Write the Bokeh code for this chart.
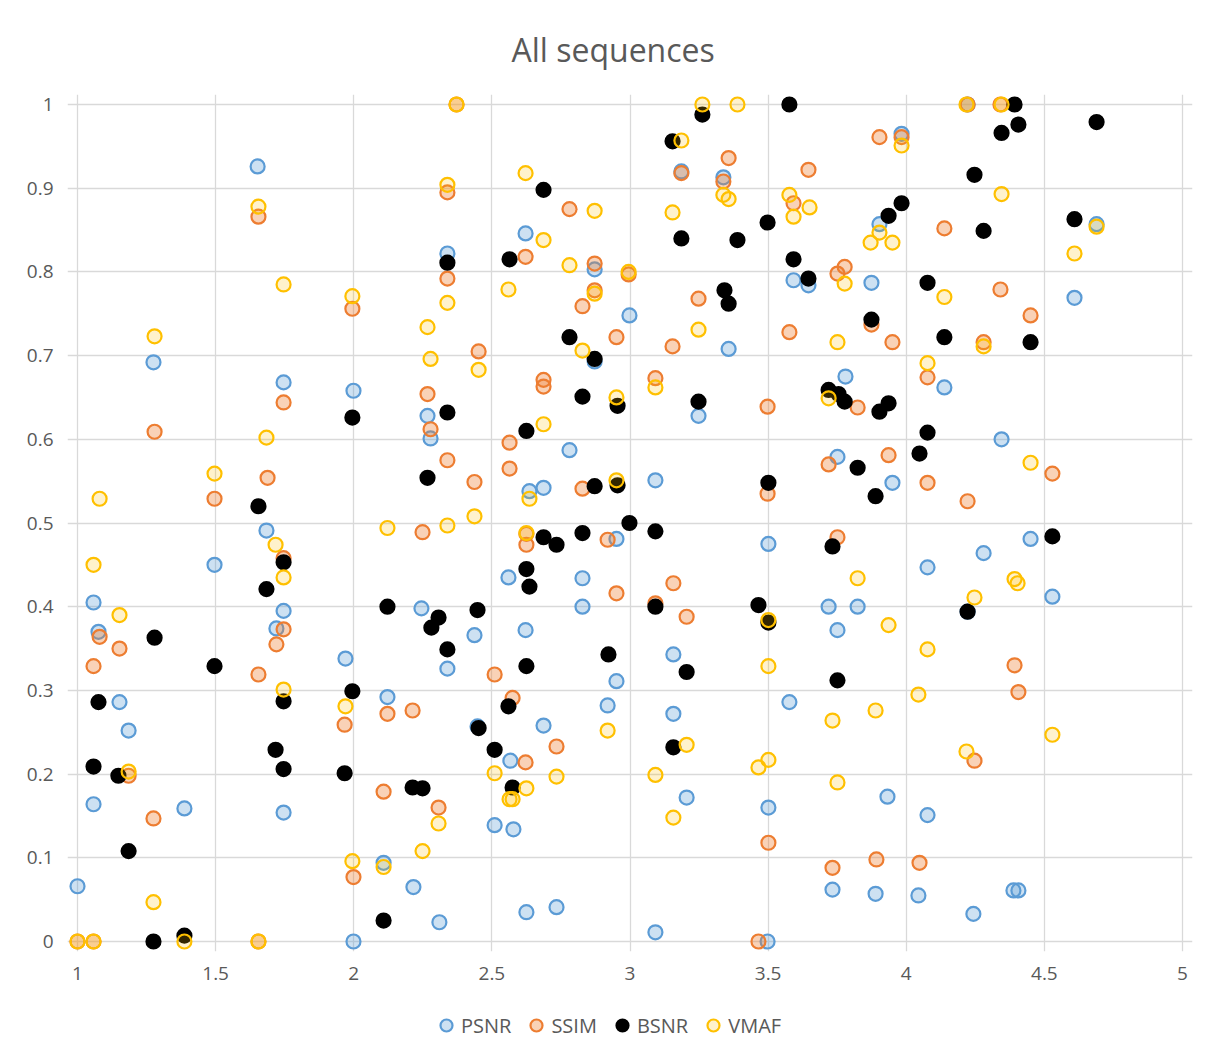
from bokeh.plotting import figure
from bokeh.models import Range1d, FixedTicker, Legend, LegendItem
from bokeh.layouts import column
from bokeh.embed import file_html
from bokeh.resources import INLINE

# ---------------- data ----------------
psnr_x = [1.0, 1.058, 1.076, 1.058, 1.152, 1.185, 1.275, 1.387, 1.496, 1.652, 1.684, 1.72, 1.746, 1.746, 1.746,
          1.97, 1.999, 1.999, 2.122, 2.108, 2.216, 2.245, 2.267, 2.278, 2.31, 2.339, 2.339, 2.437, 2.448, 2.51,
          2.56, 2.567, 2.578, 2.622, 2.622, 2.625, 2.636, 2.687, 2.687, 2.734, 2.781, 2.828, 2.828, 2.872, 2.872,
          2.919, 2.951, 2.951, 2.998, 3.092, 3.092, 3.157, 3.157, 3.186, 3.205, 3.248, 3.338, 3.357, 3.501, 3.501,
          3.498, 3.577, 3.592, 3.646, 3.719, 3.733, 3.751, 3.751, 3.78, 3.824, 3.874, 3.889, 3.903, 3.932, 3.95,
          3.983, 4.044, 4.077, 4.077, 4.138, 4.222, 4.222, 4.243, 4.28, 4.345, 4.388, 4.406, 4.45, 4.529, 4.609,
          4.689]
psnr_y = [0.066, 0.405, 0.370, 0.164, 0.286, 0.252, 0.692, 0.159, 0.450, 0.926, 0.491, 0.374, 0.668, 0.395, 0.154,
          0.338, 0.658, 0.0, 0.292, 0.094, 0.065, 0.398, 0.628, 0.601, 0.023, 0.822, 0.326, 0.366, 0.257, 0.139,
          0.435, 0.216, 0.134, 0.846, 0.372, 0.035, 0.538, 0.542, 0.258, 0.041, 0.587, 0.434, 0.400, 0.803, 0.693,
          0.282, 0.311, 0.481, 0.748, 0.551, 0.011, 0.343, 0.272, 0.920, 0.172, 0.628, 0.913, 0.708, 0.475, 0.160,
          0.0, 0.286, 0.790, 0.784, 0.400, 0.062, 0.579, 0.372, 0.675, 0.400, 0.787, 0.057, 0.857, 0.173, 0.548,
          0.965, 0.055, 0.447, 0.151, 0.662, 0.394, 1.0, 0.033, 0.464, 0.600, 0.061, 0.061, 0.481, 0.412, 0.769,
          0.857]

ssim_x = [1.0, 1.058, 1.058, 1.08, 1.152, 1.185, 1.279, 1.275, 1.496, 1.655, 1.655, 1.655, 1.688, 1.746, 1.746,
          1.746, 1.72, 1.967, 1.995, 1.999, 2.108, 2.122, 2.213, 2.249, 2.267, 2.278, 2.307, 2.339, 2.339, 2.339,
          2.372, 2.437, 2.452, 2.51, 2.564, 2.564, 2.575, 2.622, 2.625, 2.625, 2.622, 2.687, 2.687, 2.734, 2.781,
          2.828, 2.828, 2.872, 2.872, 2.919, 2.951, 2.951, 2.995, 3.092, 3.092, 3.154, 3.157, 3.186, 3.205, 3.248,
          3.338, 3.357, 3.465, 3.498, 3.498, 3.501, 3.577, 3.592, 3.646, 3.719, 3.733, 3.751, 3.751, 3.777, 3.824,
          3.874, 3.892, 3.903, 3.936, 3.95, 3.983, 4.048, 4.077, 4.077, 4.138, 4.222, 4.222, 4.247, 4.28, 4.341,
          4.341, 4.392, 4.406, 4.45, 4.529]
ssim_y = [0.0, 0.0, 0.329, 0.364, 0.350, 0.198, 0.609, 0.147, 0.529, 0.866, 0.319, 0.0, 0.554, 0.644, 0.458,
          0.373, 0.355, 0.259, 0.756, 0.077, 0.179, 0.272, 0.276, 0.489, 0.654, 0.612, 0.160, 0.895, 0.792, 0.575,
          1.0, 0.549, 0.705, 0.319, 0.596, 0.565, 0.291, 0.818, 0.487, 0.474, 0.214, 0.671, 0.663, 0.233, 0.875,
          0.759, 0.541, 0.810, 0.778, 0.480, 0.722, 0.416, 0.797, 0.673, 0.404, 0.711, 0.428, 0.918, 0.388, 0.768,
          0.908, 0.936, 0.0, 0.639, 0.535, 0.118, 0.728, 0.882, 0.922, 0.570, 0.088, 0.798, 0.483, 0.806, 0.638,
          0.737, 0.098, 0.961, 0.581, 0.716, 0.961, 0.094, 0.674, 0.548, 0.852, 0.526, 1.0, 0.216, 0.716, 0.779,
          1.0, 0.330, 0.298, 0.748, 0.559]

bsnr_x = [1.058, 1.076, 1.148, 1.185, 1.279, 1.275, 1.387, 1.496, 1.655, 1.684, 1.717, 1.746, 1.746, 1.746, 1.967,
          1.995, 1.995, 2.108, 2.122, 2.213, 2.249, 2.267, 2.281, 2.307, 2.339, 2.339, 2.339, 2.448, 2.452, 2.51,
          2.564, 2.56, 2.575, 2.625, 2.625, 2.636, 2.625, 2.687, 2.687, 2.734, 2.781, 2.828, 2.828, 2.872, 2.872,
          2.922, 2.955, 2.955, 2.998, 3.092, 3.092, 3.154, 3.157, 3.186, 3.205, 3.248, 3.262, 3.342, 3.357, 3.389,
          3.465, 3.498, 3.501, 3.501, 3.577, 3.592, 3.646, 3.719, 3.733, 3.755, 3.751, 3.777, 3.824, 3.874, 3.889,
          3.903, 3.936, 3.936, 3.983, 4.048, 4.077, 4.077, 4.138, 4.222, 4.247, 4.28, 4.345, 4.392, 4.406, 4.45,
          4.529, 4.609, 4.689]
bsnr_y = [0.209, 0.286, 0.198, 0.108, 0.363, 0.0, 0.007, 0.329, 0.520, 0.421, 0.229, 0.453, 0.287, 0.206, 0.201,
          0.626, 0.299, 0.025, 0.400, 0.184, 0.183, 0.554, 0.375, 0.387, 0.811, 0.632, 0.349, 0.396, 0.255, 0.229,
          0.815, 0.281, 0.184, 0.610, 0.445, 0.424, 0.329, 0.898, 0.483, 0.474, 0.722, 0.651, 0.488, 0.696, 0.544,
          0.343, 0.640, 0.545, 0.500, 0.490, 0.400, 0.956, 0.232, 0.840, 0.322, 0.645, 0.988, 0.778, 0.762, 0.838,
          0.402, 0.859, 0.548, 0.381, 1.0, 0.815, 0.792, 0.659, 0.472, 0.654, 0.312, 0.645, 0.566, 0.743, 0.532,
          0.633, 0.643, 0.867, 0.882, 0.583, 0.787, 0.608, 0.722, 0.394, 0.916, 0.849, 0.966, 1.0, 0.976, 0.716,
          0.484, 0.863, 0.979]

vmaf_x = [1.0, 1.058, 1.058, 1.08, 1.152, 1.185, 1.279, 1.275, 1.387, 1.496, 1.655, 1.655, 1.684, 1.717, 1.746,
          1.746, 1.746, 1.97, 1.995, 1.995, 2.108, 2.122, 2.249, 2.267, 2.278, 2.307, 2.339, 2.339, 2.339, 2.372,
          2.437, 2.452, 2.51, 2.56, 2.564, 2.575, 2.622, 2.625, 2.636, 2.625, 2.687, 2.687, 2.734, 2.781, 2.828,
          2.872, 2.872, 2.919, 2.951, 2.951, 2.995, 3.092, 3.092, 3.154, 3.157, 3.186, 3.205, 3.248, 3.262, 3.338,
          3.357, 3.389, 3.465, 3.501, 3.501, 3.501, 3.577, 3.592, 3.65, 3.719, 3.733, 3.751, 3.751, 3.777, 3.824,
          3.871, 3.889, 3.903, 3.936, 3.95, 3.983, 4.044, 4.077, 4.077, 4.138, 4.218, 4.218, 4.247, 4.28, 4.345,
          4.345, 4.392, 4.403, 4.45, 4.529, 4.609, 4.689]
vmaf_y = [0.0, 0.0, 0.450, 0.529, 0.390, 0.203, 0.723, 0.047, 0.0, 0.559, 0.878, 0.0, 0.602, 0.474, 0.785,
          0.435, 0.301, 0.281, 0.771, 0.096, 0.089, 0.494, 0.108, 0.734, 0.696, 0.141, 0.904, 0.763, 0.497, 1.0,
          0.508, 0.683, 0.201, 0.779, 0.170, 0.170, 0.918, 0.488, 0.529, 0.183, 0.838, 0.618, 0.197, 0.808, 0.706,
          0.873, 0.774, 0.252, 0.650, 0.551, 0.800, 0.662, 0.199, 0.871, 0.148, 0.957, 0.235, 0.731, 1.0, 0.892,
          0.887, 1.0, 0.208, 0.217, 0.384, 0.329, 0.892, 0.866, 0.877, 0.649, 0.264, 0.716, 0.190, 0.786, 0.434,
          0.835, 0.276, 0.847, 0.378, 0.835, 0.951, 0.295, 0.691, 0.349, 0.770, 1.0, 0.227, 0.411, 0.711, 1.0,
          0.893, 0.433, 0.428, 0.572, 0.247, 0.822, 0.854]

series_names = ["PSNR", "SSIM", "BSNR", "VMAF"]

x_ticks = [1, 1.5, 2, 2.5, 3, 3.5, 4, 4.5, 5]
x_tick_labels = ["1", "1.5", "2", "2.5", "3", "3.5", "4", "4.5", "5"]
y_ticks = [0, 0.1, 0.2, 0.3, 0.4, 0.5, 0.6, 0.7, 0.8, 0.9, 1.0]
y_tick_labels = ["0", "0.1", "0.2", "0.3", "0.4", "0.5", "0.6", "0.7", "0.8", "0.9", "1"]

title_text = "All sequences"

# ---------------- figure ----------------
FONT = "Open Sans"
TEXT = "#595959"
GRID = "#d9d9d9"

pad_x = 10 / 276.25
pad_y = 10 / 837.0

MAIN_H = 1010
LEG_H = 54

p = figure(width=1217, height=MAIN_H,
           x_range=Range1d(1 - pad_x, 5 + pad_x),
           y_range=Range1d(0 - pad_y, 1 + pad_y),
           output_backend="svg", toolbar_location=None,
           min_border_left=67, min_border_right=25,
           min_border_top=94, min_border_bottom=MAIN_H - 951,
           title=title_text)

p.outline_line_color = None
p.background_fill_color = "white"
p.border_fill_color = "white"

p.title.align = "left"
p.title.offset = 444
p.title.text_font = FONT
p.title.text_font_size = "32px"
p.title.text_font_style = "normal"
p.title.text_color = TEXT
p.title.standoff = 48

for ax in (p.xaxis[0], p.yaxis[0]):
    ax.axis_line_color = None
    ax.major_tick_line_color = None
    ax.minor_tick_line_color = None
    ax.major_tick_in = 0
    ax.major_tick_out = 0
    ax.minor_tick_in = 0
    ax.minor_tick_out = 0
    ax.major_label_text_font = FONT
    ax.major_label_text_font_size = "19px"
    ax.major_label_text_color = TEXT

p.xaxis.ticker = FixedTicker(ticks=x_ticks)
p.xaxis.major_label_overrides = {t: l for t, l in zip(x_ticks, x_tick_labels)}
p.xaxis.major_label_standoff = 15
p.yaxis.ticker = FixedTicker(ticks=y_ticks)
p.yaxis.major_label_overrides = {t: l for t, l in zip(y_ticks, y_tick_labels)}
p.yaxis.major_label_standoff = 14

p.xgrid.ticker = FixedTicker(ticks=x_ticks)
p.ygrid.ticker = FixedTicker(ticks=y_ticks)
p.xgrid.bounds = (0, 1)
p.ygrid.bounds = (1, 5)
p.xgrid.grid_line_color = GRID
p.ygrid.grid_line_color = GRID
p.xgrid.grid_line_width = 1.3
p.ygrid.grid_line_width = 1.3

styles = [
    dict(line_color="#5B9BD5", fill_color="#5B9BD5", fill_alpha=0.3),
    dict(line_color="#ED7D31", fill_color="#ED7D31", fill_alpha=0.35),
    dict(line_color="#000000", fill_color="#000000", fill_alpha=1.0),
    dict(line_color="#FFC000", fill_color="#FFC000", fill_alpha=0.2),
]
data = [(psnr_x, psnr_y), (ssim_x, ssim_y), (bsnr_x, bsnr_y), (vmaf_x, vmaf_y)]

for (xs, ys), st in zip(data, styles):
    p.scatter(xs, ys, marker="circle", size=14, line_width=2.2, **st)

# ---------------- legend strip ----------------
# legend-only figure; its ranges are chosen so that its (proxy) points fall outside the view
q = figure(width=1217, height=LEG_H, x_range=Range1d(10, 11), y_range=Range1d(10, 11),
           output_backend="svg", toolbar_location=None,
           min_border=0, x_axis_location=None, y_axis_location=None)
q.grid.visible = False
q.outline_line_color = None
q.background_fill_color = "white"
q.border_fill_color = "white"

items = []
for name, (xs, ys), st in zip(series_names, data, styles):
    r = q.scatter(x=xs[:1], y=ys[:1], marker="circle", size=14, line_width=2.2, **st)
    items.append(LegendItem(label=name, renderers=[r]))

legend = Legend(items=items, orientation="horizontal", location=(364, 24),
                label_text_font=FONT, label_text_font_size="20px", label_text_color=TEXT,
                glyph_width=30, glyph_height=30, label_standoff=0, spacing=10,
                border_line_color=None, background_fill_alpha=0, padding=0, margin=0)
q.add_layout(legend, "center")

layout = column(p, q, spacing=0)
open("out.html", "w").write(file_html(layout, INLINE))
